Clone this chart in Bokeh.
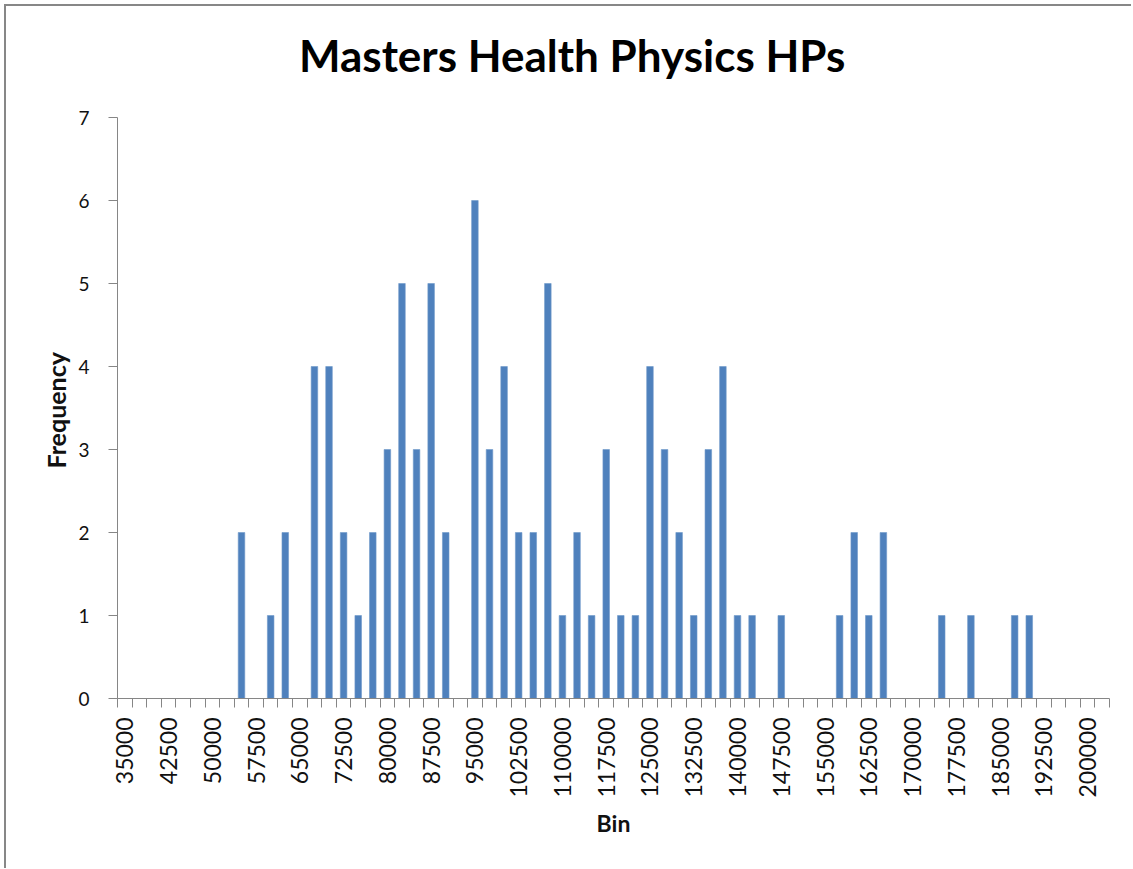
import math
import numpy as np
from bokeh.plotting import figure
from bokeh.models import Range1d, FixedTicker, Title
from bokeh.core.properties import value
from bokeh.embed import file_html
from bokeh.resources import INLINE

bins = ["35000", "37500", "40000", "42500", "45000", "47500", "50000", "52500",
        "55000", "57500", "60000", "62500", "65000", "67500", "70000", "72500",
        "75000", "77500", "80000", "82500", "85000", "87500", "90000", "92500",
        "95000", "97500", "100000", "102500", "105000", "107500", "110000", "112500",
        "115000", "117500", "120000", "122500", "125000", "127500", "130000", "132500",
        "135000", "137500", "140000", "142500", "145000", "147500", "150000", "152500",
        "155000", "157500", "160000", "162500", "165000", "167500", "170000", "172500",
        "175000", "177500", "180000", "182500", "185000", "187500", "190000", "192500",
        "195000", "197500", "200000", "More"]

frequency = [0, 0, 0, 0, 0, 0, 0, 0,
             2, 0, 1, 2, 0, 4, 4, 2,
             1, 2, 3, 5, 3, 5, 2, 0,
             6, 3, 4, 2, 2, 5, 1, 2,
             1, 3, 1, 1, 4, 3, 2, 1,
             3, 4, 1, 1, 0, 1, 0, 0,
             0, 1, 2, 1, 2, 0, 0, 0,
             1, 0, 1, 0, 0, 1, 1, 0,
             0, 0, 0, 0]

y_ticks = [0, 1, 2, 3, 4, 5, 6, 7]
y_max = 7
label_every = 3

title_text = "Masters Health Physics HPs"
x_title = "Bin"
y_title = "Frequency"

n = len(bins)
centers = np.arange(n) + 0.5
edges = list(range(n + 1))

BLUE = "#4F81BD"
GRAY = "#868686"
FONT = "Lato"

# frame extends above the value axis to hold the chart title
plot_h = 581          # pixel height of the 0..7 value area
extra_h = 97          # pixel headroom above it for the title
y_end = y_max * (plot_h + extra_h) / plot_h

p = figure(output_backend="svg", toolbar_location=None,
           frame_width=992, frame_height=plot_h + extra_h,
           min_border_left=111, min_border_top=14,
           min_border_right=22, min_border_bottom=170,
           x_range=Range1d(0, n), y_range=Range1d(0, y_end),
           tools="")
p.styles = {"border-top": "2px solid #878787", "border-left": "2px solid #878787",
            "margin-top": "4px", "margin-left": "4px"}
p.outline_line_color = None
p.xgrid.grid_line_color = None
p.ygrid.grid_line_color = None

p.vbar(x=centers, top=frequency, width=0.45, bottom=0,
       fill_color=BLUE, line_color="#6f98c9", line_width=0.6)

# chart title, centred over the chart area
p.text(x=[31.17], y=[7.747], text=[title_text], text_align="center",
       text_baseline="middle", text_font=value(FONT), text_font_style="bold",
       text_font_size="44px", text_color="#000000")

label_ticks = [float(c) for i, c in enumerate(centers) if i % label_every == 0]
overrides = {float(c): bins[i] for i, c in enumerate(centers) if i % label_every == 0}

xa = p.xaxis[0]
xa.ticker = FixedTicker(ticks=label_ticks, minor_ticks=edges)
xa.major_label_overrides = overrides
xa.major_label_orientation = math.pi / 2
xa.major_tick_line_color = None
xa.major_tick_out = 9
xa.major_tick_in = 0
xa.minor_tick_line_color = GRAY
xa.minor_tick_out = 9
xa.minor_tick_in = 0
xa.major_label_standoff = 10
xa.axis_line_color = GRAY
xa.major_label_text_font = FONT
xa.major_label_text_font_size = "23px"
xa.major_label_text_color = "#111111"
xa.axis_label = x_title
xa.axis_label_text_font = FONT
xa.axis_label_text_font_style = "bold"
xa.axis_label_text_font_size = "23px"
xa.axis_label_text_color = "#111111"
xa.axis_label_standoff = 8

ya = p.yaxis[0]
ya.ticker = FixedTicker(ticks=y_ticks)
ya.bounds = (0, y_max)
ya.major_tick_line_color = GRAY
ya.major_tick_out = 9
ya.major_tick_in = 0
ya.minor_tick_line_color = None
ya.axis_line_color = GRAY
ya.major_label_standoff = 19
ya.major_label_text_font = FONT
ya.major_label_text_font_size = "19px"
ya.major_label_text_color = "#111111"

# value-axis title, placed beside the 0..7 part of the axis
ytitle = Title(text=y_title, align="left", offset=230, standoff=10,
               vertical_align="bottom", text_font=FONT, text_font_style="bold",
               text_font_size="25px", text_color="#111111")
p.add_layout(ytitle, "left")

open("out.html", "w").write(file_html(p, INLINE))
